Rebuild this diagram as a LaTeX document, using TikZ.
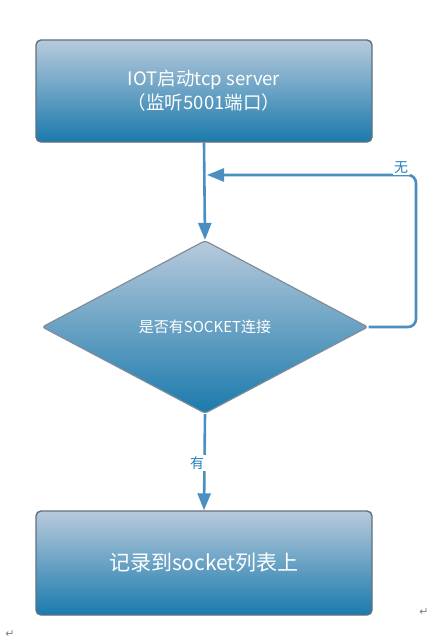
\documentclass[tikz,border=0pt]{standalone}
\usepackage{fontspec}
\usepackage{xcolor}
\usetikzlibrary{positioning, shapes.geometric, arrows.meta}
\newfontfamily\cjk{Noto Sans CJK SC}
\newfontfamily\symfont{DejaVu Sans}
\definecolor{boxTop}{RGB}{184,202,220}
\definecolor{boxBottom}{RGB}{26,122,172}
\definecolor{boxEdge}{RGB}{96,112,128}
\definecolor{flowBlue}{RGB}{74,143,192}
\definecolor{labelBlue}{RGB}{40,128,188}

\begin{document}
\begin{tikzpicture}[
			x=1pt, y=-1pt,
			procbox/.style={
				rectangle,
				rounded corners=5pt,
				draw=boxEdge,
				line width=1.4pt,
				top color=boxTop,
				bottom color=boxBottom,
				minimum width=336pt,
				minimum height=102pt,
				align=center,
				font=\cjk\fontsize{18.5}{24}\selectfont,
				text=white
			},
			decision/.style={
				diamond,
				rounded corners=3pt,
				draw=boxEdge!80,
				line width=1.2pt,
				top color=boxTop,
				bottom color=boxBottom,
				minimum width=326pt,
				minimum height=173pt,
				inner sep=0pt,
				font=\cjk\fontsize{15}{18}\selectfont,
				text=white
			},
			flow/.style={
				line width=2.6pt,
				flowBlue,
				-{Triangle[length=17pt,width=13pt]}
			},
			flowlabel/.style={
				fill=white,
				inner sep=1.5pt,
				font=\cjk\fontsize{14}{16}\selectfont,
				text=labelBlue
			},
			retmark/.style={
				font=\symfont\fontsize{11}{13}\selectfont,
				text=gray
			}
			]
			
			\useasboundingbox (0,0) rectangle (438,642);
			
			% Boxes
			\node[procbox] (start) at (204,91) {IOT启动tcp server\\（监听5001端口）};
			\node[decision] (check) at (205,327) {是否有SOCKET连接};
			\node[procbox, minimum height=104pt] (record) at (204,563) {\fontsize{21}{25}\selectfont 记录到socket列表上};
			
			% Loop points
			\coordinate (loopTop) at (416,175);
			\coordinate (join) at (207,175);
			
			% Connectors
			\draw[flow] (start.south) -- (check.north);
			\draw[flow, rounded corners=8pt] (check.east) -- (check.east -| loopTop) -- (loopTop) -- (join);
			\draw[flow] (check.south) -- (record.north);
			
			% Labels on connectors
			\node[flowlabel] (noLabel) at (401,168) {无};
			\node[flowlabel] (yesLabel) at (197,463) {有};
			
			% Paragraph marks
			\node[retmark] (markA) at (424,612) {↵};
			\node[retmark] (markB) at (10,634) {↵};
			
		\end{tikzpicture}
\end{document}
